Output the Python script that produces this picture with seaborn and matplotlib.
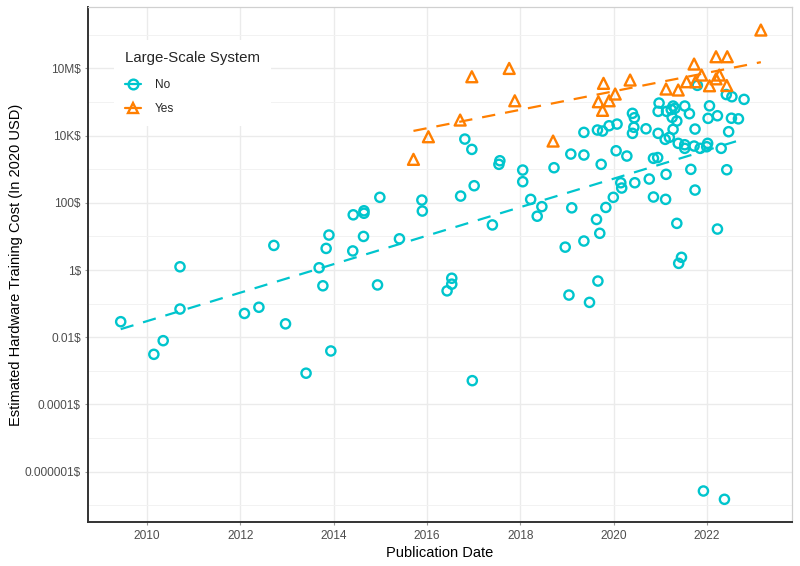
"""Hardware training cost vs publication date, split by large-scale systems."""

import matplotlib

matplotlib.use("Agg")

import matplotlib.pyplot as plt
import numpy as np
import pandas as pd
import seaborn as sns
from matplotlib.lines import Line2D

# "No" systems: publication date (decimal year) and training cost in 2020 USD
NO_YEAR = [
    2009.44, 2010.15, 2010.35, 2010.71, 2010.71, 2012.09, 2012.40, 2012.72, 2012.97, 2013.41,
    2013.69, 2013.77, 2013.84, 2013.90, 2013.94, 2014.41, 2014.42, 2014.65, 2014.65, 2014.64,
    2014.94, 2014.99, 2015.41, 2015.89, 2015.90, 2016.43, 2016.53, 2016.53, 2016.72, 2016.81,
    2016.96, 2016.97, 2017.01, 2017.40, 2017.56, 2017.54, 2018.05, 2018.05, 2018.22, 2018.36,
    2018.46, 2018.72, 2018.96, 2019.04, 2019.08, 2019.10, 2019.36, 2019.36, 2019.36, 2019.48,
    2019.63, 2019.66, 2019.70, 2019.65, 2019.76, 2019.73, 2019.83, 2019.90, 2019.99, 2020.07,
    2020.05, 2020.15, 2020.17, 2020.28, 2020.40, 2020.44, 2020.43, 2020.40, 2020.45, 2020.69,
    2020.76, 2020.85, 2020.85, 2020.94, 2020.97, 2020.95, 2021.13, 2020.95, 2021.10, 2021.19,
    2021.12, 2021.11, 2021.23, 2021.27, 2021.31, 2021.25, 2021.35, 2021.27, 2021.35, 2021.38,
    2021.39, 2021.45, 2021.52, 2021.52, 2021.52, 2021.62, 2021.65, 2021.72, 2021.74, 2021.74,
    2021.79, 2021.85, 2021.92, 2021.99, 2022.01, 2022.05, 2022.02, 2022.22, 2022.22, 2022.30,
    2022.37, 2022.41, 2022.53, 2022.42, 2022.46, 2022.52, 2022.67, 2022.79,
]
NO_COST = [
    0.029, 0.0031, 0.0079, 1.25, 0.069, 0.051, 0.078, 5.4, 0.025, 0.00085,
    1.17, 0.34, 4.4, 11, 0.0039, 3.7, 44, 58, 49, 10,
    0.36, 146, 8.5, 121, 57, 0.24, 0.38, 0.57, 159, 7900,
    3900, 0.00051, 323, 22, 1790, 1400, 946, 425, 127, 40,
    77, 1110, 4.8, 0.18, 2830, 71, 12500, 2650, 7.3, 0.109,
    32, 0.47, 12.4, 14700, 13700, 1400, 73, 19700, 146, 22100,
    3550, 396, 276, 2470, 46100, 34100, 17700, 11700, 396, 16000,
    511, 149, 2110, 2230, 93300, 52800, 52800, 11700, 7760, 8900,
    705, 127, 59800, 76000, 64900, 35000, 27200, 15400, 24.5, 5900,
    1.58, 2.39, 76000, 5360, 4190, 44900, 993, 4900, 15700, 240,
    314000, 4190, 2.65e-7, 4670, 5900, 77100, 32700, 39100, 16.6, 4190,
    1.5e-7, 167000, 144000, 966, 13100, 33000, 31600, 120000,
]

# "Yes" (large-scale) systems
YES_YEAR = [
    2015.71, 2016.03, 2016.71, 2016.96, 2017.76, 2017.88, 2018.70, 2019.67, 2019.76, 2019.78,
    2019.90, 2020.03, 2020.35, 2021.12, 2021.38, 2021.56, 2021.72, 2021.75, 2021.88, 2022.05,
    2022.19, 2022.19, 2022.26, 2022.43, 2022.42, 2023.15,
]
YES_COST = [
    1970, 9270, 29100, 566000, 1.0e6, 109000, 6900, 102000, 56600, 360000,
    109000, 173000, 452000, 244000, 228000, 402000, 1.35e6, 402000, 636000, 305000,
    2.23e6, 490000, 636000, 2.23e6, 310000, 1.39e7,
]

X_TICKS = [2010, 2012, 2014, 2016, 2018, 2020, 2022]
# tick positions as drawn; the top gridline carries the "10M$" label in the source
Y_TICKS = [1e-6, 1e-4, 1e-2, 1, 1e2, 1e4, 1e6]
Y_TICK_LABELS = ["0.000001$", "0.0001$", "0.01$", "1$", "100$", "10K$", "10M$"]

COLORS = {"No": "#00C5CD", "Yes": "#FF7F00"}
MARKERS = {"No": "o", "Yes": "^"}
SIZES = {"No": 44, "Yes": 62}

df = pd.concat(
    [
        pd.DataFrame({"year": NO_YEAR, "cost": NO_COST, "large_scale": "No"}),
        pd.DataFrame({"year": YES_YEAR, "cost": YES_COST, "large_scale": "Yes"}),
    ],
    ignore_index=True,
)
df["log_cost"] = np.log10(df["cost"])

sns.set_theme(style="whitegrid")
plt.rcParams["font.family"] = ["Liberation Sans", "DejaVu Sans"]

fig = plt.figure(figsize=(8, 5.66), dpi=100)
ax = fig.add_axes([0.1106, 0.0777, 0.879, 0.9094])

for group in ["No", "Yes"]:
    sub = df[df["large_scale"] == group]
    sns.regplot(
        data=sub,
        x="year",
        y="log_cost",
        ax=ax,
        ci=None,
        marker=MARKERS[group],
        color=COLORS[group],
        scatter_kws={
            "facecolors": "none",
            "s": SIZES[group],
            "linewidths": 1.7,
            "alpha": 1,
            "zorder": 3,
        },
        line_kws={"linewidth": 1.6, "dashes": (6, 4.5), "zorder": 4},
    )

ax.set_xlim(2008.75, 2023.81)
ax.set_ylim(-7.5, 7.82)
ax.set_xticks(X_TICKS)
ax.set_xticklabels([str(t) for t in X_TICKS])
ax.set_yticks(np.log10(Y_TICKS))
ax.set_yticklabels(Y_TICK_LABELS)
ax.set_yticks(np.arange(-7, 8, 2), minor=True)

ax.grid(which="major", axis="both", color="#EBEBEB", linewidth=1.0)
ax.grid(which="minor", axis="y", color="#F2F2F2", linewidth=0.7)
ax.grid(which="minor", axis="x", visible=False)
ax.set_axisbelow(True)

ax.tick_params(axis="both", which="major", labelsize=8.6, labelcolor="#4D4D4D",
               color="#9A9A9A", length=2.5, width=0.8, pad=3, left=True, bottom=True)
ax.tick_params(axis="both", which="minor", length=0)

for side in ["left", "bottom"]:
    ax.spines[side].set_color("#333333")
    ax.spines[side].set_linewidth(1.4)
for side in ["top", "right"]:
    ax.spines[side].set_color("#D0D0D0")
    ax.spines[side].set_linewidth(0.9)

ax.set_xlabel("Publication Date", fontsize=10.5, color="black", labelpad=3)
ax.set_ylabel("Estimated Hardware Training Cost (In 2020 USD)", fontsize=10.5,
              color="black", labelpad=1)

handles = [
    Line2D([0], [0], color=COLORS[g], marker=MARKERS[g], markerfacecolor="none",
           markersize=7, markeredgewidth=1.7, linewidth=1.6, linestyle="-")
    for g in ["No", "Yes"]
]
leg = ax.legend(
    handles,
    ["No", "Yes"],
    title="Large-Scale System",
    loc="upper left",
    bbox_to_anchor=(0.036, 0.937),
    borderaxespad=0,
    frameon=True,
    fontsize=8.6,
    title_fontsize=10.8,
    handlelength=1.3,
    handletextpad=1.2,
    labelspacing=1.0,
    borderpad=0.95,
    alignment="left",
)
leg._legend_box.sep = 10
leg.get_frame().set_facecolor("white")
leg.get_frame().set_edgecolor("none")
leg.get_frame().set_alpha(1)

fig.savefig("out.png", dpi=100)
